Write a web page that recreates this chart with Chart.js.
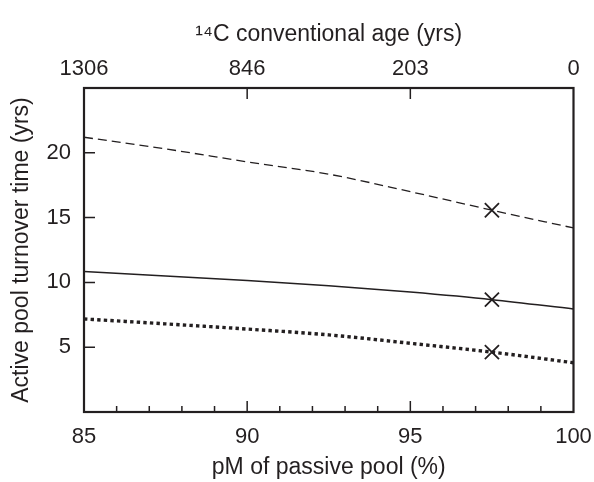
<!DOCTYPE html>
<html>
<head>
<meta charset="utf-8">
<script src="https://cdn.jsdelivr.net/npm/chart.js@4/dist/chart.umd.min.js"></script>
<style>
  html, body { margin: 0; padding: 0; background: #fff; }
  #wrap { width: 594px; height: 482px; }
</style>
</head>
<body>
<div id="wrap"><canvas id="chart"></canvas></div>
<script>
// pM of passive pool (%)
const pM = [85, 87.5, 90, 92.5, 95, 97.5, 100];
// active pool turnover time (yrs)
const dashedSeries = [21.2, 20.3, 19.3, 18.35, 17.0, 15.57, 14.2];
const solidSeries = [10.85, 10.5, 10.15, 9.75, 9.25, 8.67, 7.95];
const dottedSeries = [7.18, 6.8, 6.4, 5.95, 5.3, 4.62, 3.8];
// marked points
const markX = [97.5, 97.5, 97.5];
const markY = [15.57, 8.67, 4.62];
// axes
const xTicks = [85, 90, 95, 100];
const ageLabels = ['1306', '846', '203', '0'];
const xMinorTicks = [86, 87, 88, 89, 91, 92, 93, 94, 96, 97, 98, 99];
const yTicks = [5, 10, 15, 20];

const ink = '#231f20';
const tickFont = { family: 'Liberation Sans, Arial, sans-serif', size: 22 };
const titleFont = { family: 'Liberation Sans, Arial, sans-serif', size: 23 };

function pts(ys) {
    return pM.map((x, i) => ({ x: x, y: ys[i] }));
}

// frame and inward tick marks
const frameTicks = {
    id: 'frameTicks',
    afterDatasetsDraw(chart) {
        const ctx = chart.ctx;
        const a = chart.chartArea;
        const x = chart.scales.x, y = chart.scales.y;
        ctx.save();
        ctx.strokeStyle = ink;
        ctx.lineWidth = 1.5;
        ctx.beginPath();
        [90, 95].forEach(v => {
            const px = x.getPixelForValue(v);
            ctx.moveTo(px, a.bottom); ctx.lineTo(px, a.bottom - 11);
            ctx.moveTo(px, a.top); ctx.lineTo(px, a.top + 11);
        });
        xMinorTicks.forEach(v => {
            const px = x.getPixelForValue(v);
            ctx.moveTo(px, a.bottom); ctx.lineTo(px, a.bottom - 6);
        });
        yTicks.forEach(v => {
            const py = y.getPixelForValue(v);
            ctx.moveTo(a.left, py); ctx.lineTo(a.left + 11, py);
        });
        ctx.stroke();
        ctx.lineWidth = 2.2;
        ctx.strokeRect(a.left, a.top, a.right - a.left, a.bottom - a.top);
        ctx.restore();
    }
};

function fitX(h) {
    return s => { s.height = h; s.paddingLeft = 0; s.paddingRight = 0; };
}

new Chart(document.getElementById('chart'), {
    type: 'line',
    data: {
        datasets: [
            {
                data: pts(dashedSeries),
                borderColor: ink, borderWidth: 1.3, borderDash: [9, 5],
                pointRadius: 0, cubicInterpolationMode: 'monotone'
            },
            {
                data: pts(solidSeries),
                borderColor: ink, borderWidth: 1.5,
                pointRadius: 0, cubicInterpolationMode: 'monotone'
            },
            {
                data: pts(dottedSeries),
                borderColor: ink, borderWidth: 3.4, borderDash: [3.4, 3.2],
                pointRadius: 0, cubicInterpolationMode: 'monotone'
            },
            {
                type: 'scatter',
                data: markX.map((x, i) => ({ x: x, y: markY[i] })),
                pointStyle: 'crossRot', pointRadius: 10,
                borderColor: ink, backgroundColor: ink, pointBorderWidth: 1.8
            }
        ]
    },
    options: {
        responsive: true,
        maintainAspectRatio: false,
        animation: false,
        layout: { padding: { left: 0, right: 20.5, top: 0, bottom: 0 } },
        plugins: { legend: { display: false }, tooltip: { enabled: false } },
        scales: {
            x: {
                type: 'linear', position: 'bottom', min: 85, max: 100,
                afterBuildTicks: s => { s.ticks = xTicks.map(v => ({ value: v })); },
                afterFit: fitX(70),
                grid: { display: false, drawTicks: false },
                border: { display: false },
                ticks: { color: ink, font: tickFont, padding: 12, maxRotation: 0 },
                title: { display: true, text: 'pM of passive pool (%)', color: ink, font: titleFont, padding: { top: 0, bottom: 1 } }
            },
            x2: {
                type: 'linear', position: 'top', min: 85, max: 100,
                afterBuildTicks: s => { s.ticks = xTicks.map(v => ({ value: v })); },
                afterFit: fitX(88),
                grid: { display: false, drawTicks: false },
                border: { display: false },
                ticks: {
                    color: ink, font: tickFont, padding: 6, maxRotation: 0,
                    callback: (v) => ageLabels[xTicks.indexOf(v)]
                },
                title: { display: true, text: '\u00b9\u2074C conventional age (yrs)', color: ink, font: titleFont, padding: { top: 21, bottom: 0 } }
            },
            y: {
                type: 'linear', position: 'left', min: 0, max: 25,
                afterBuildTicks: s => { s.ticks = yTicks.map(v => ({ value: v })); },
                afterFit: s => { s.width = 84; },
                grid: { display: false, drawTicks: false },
                border: { display: false },
                ticks: { color: ink, font: tickFont, padding: 13 },
                title: { display: true, text: 'Active pool turnover time (yrs)', color: ink, font: titleFont, padding: { top: 8, bottom: 0 } }
            }
        }
    },
    plugins: [frameTicks]
});
</script>
</body>
</html>
